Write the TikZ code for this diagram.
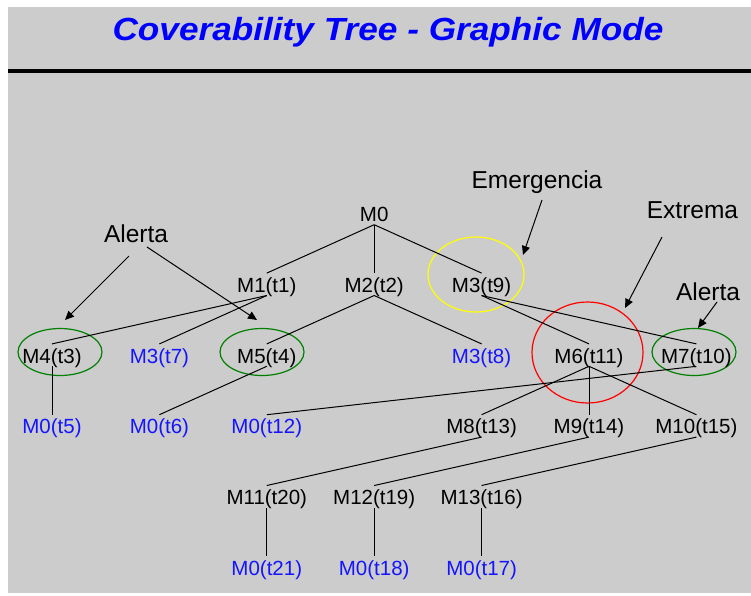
\documentclass[tikz,border=0pt]{standalone}
\usepackage{fontspec}
\setmainfont{Liberation Sans}
\newfontfamily\titlefont[FakeStretch=1.10]{Liberation Sans}
\usetikzlibrary{arrows.meta, positioning, shapes.geometric}

\definecolor{panelgray}{RGB}{204,204,204}
\definecolor{treeblue}{RGB}{20,20,255}
\definecolor{ringgreen}{RGB}{0,128,0}
\definecolor{ringyellow}{RGB}{255,255,0}

\tikzset{
    marking/.style={font=\fontsize{20.5}{20.5}\selectfont, inner sep=0pt,
                    text height=19pt, text depth=3pt},
    oldmark/.style={marking, text=treeblue},
    arc/.style={draw, line width=1pt},
    ring/.style={ellipse, draw, line width=1.2pt, inner sep=0pt},
    note/.style={font=\fontsize{24.5}{24.5}\selectfont, anchor=base},
    pointer/.style={->, line width=1pt},
}

\begin{document}
\begin{tikzpicture}[
    x=1pt, y=-1pt,
    >={Triangle[length=9pt, width=8pt]},
    node distance=70.8pt and 107.4pt,
    on grid,
]
    \useasboundingbox (0,0) rectangle (751,595);
    \fill[panelgray] (8,7) rectangle (751,593);

    \node[anchor=base, text=blue, font=\titlefont\bfseries\itshape\fontsize{32}{32}\selectfont]
        (title) at (388,40) {Coverability Tree - Graphic Mode};
    \draw[line width=4pt] (8,70.5) -- (751,70.5);

    % rings
    \node[ring, draw=ringgreen,  minimum width=84pt,  minimum height=47pt]  (ringM4) at (60,352)      {};
    \node[ring, draw=ringgreen,  minimum width=84pt,  minimum height=47pt]  (ringM5) at (262,352)     {};
    \node[ring, draw=ringyellow, minimum width=96pt,  minimum height=75pt]  (ringM3) at (476,274.5)   {};
    \node[ring, draw=red,        minimum width=111pt, minimum height=101pt] (ringM6) at (587.5,352.5) {};
    \node[ring, draw=ringgreen,  minimum width=84pt,  minimum height=47pt]  (ringM7) at (694,352)     {};

    % tree
    \node[marking]                        (M0)   at (374.2,213.5) {M0};
    \node[marking, below left =of M0]     (M1)   {M1(t1)};
    \node[marking, below      =of M0]     (M2)   {M2(t2)};
    \node[marking, below right=of M0]     (M3)   {M3(t9)};

    \node[oldmark, below left =of M1]     (M3b)  {M3(t7)};
    \node[marking, left       =of M3b]    (M4)   {M4(t3)};
    \node[marking, below      =of M1]     (M5)   {M5(t4)};
    \node[oldmark, below      =of M3]     (M3c)  {M3(t8)};
    \node[marking, below right=of M3]     (M6)   {M6(t11)};
    \node[marking, right      =of M6]     (M7)   {M7(t10)};

    \node[oldmark, below=of M4]           (M0a)  {M0(t5)};
    \node[oldmark, below=of M3b]          (M0b)  {M0(t6)};
    \node[oldmark, below=of M5]           (M0c)  {M0(t12)};
    \node[marking, below=of M3c]          (M8)   {M8(t13)};
    \node[marking, below=of M6]           (M9)   {M9(t14)};
    \node[marking, below=of M7]           (M10)  {M10(t15)};

    \node[marking, below=of M0c]          (M11)  {M11(t20)};
    \node[marking, right=of M11]          (M12)  {M12(t19)};
    \node[marking, right=of M12]          (M13)  {M13(t16)};

    \node[oldmark, below=of M11]          (M0d)  {M0(t21)};
    \node[oldmark, below=of M12]          (M0e)  {M0(t18)};
    \node[oldmark, below=of M13]          (M0f)  {M0(t17)};

    \path[arc]
        (M0.south)  edge (M1.north)
        (M0.south)  edge (M2.north)
        (M0.south)  edge (M3.north)
        (M1.south)  edge (M4.north)
        (M1.south)  edge (M3b.north)
        (M2.south)  edge (M5.north)
        (M2.south)  edge (M3c.north)
        (M3.south)  edge (M6.north)
        (M3.south)  edge (M7.north)
        (M4.south)  edge (M0a.north)
        (M5.south)  edge (M0b.north)
        (M7.south)  edge (M0c.north)
        (M6.south)  edge (M8.north)
        (M6.south)  edge (M9.north)
        (M6.south)  edge (M10.north)
        (M8.south)  edge (M11.north)
        (M9.south)  edge (M12.north)
        (M10.south) edge (M13.north)
        (M11.south) edge (M0d.north)
        (M12.south) edge (M0e.north)
        (M13.south) edge (M0f.north)
    ;

    % notes
    \node[note] (alertaL) at (136,242)   {Alerta};
    \node[note] (emerg)   at (537,188)   {Emergencia};
    \node[note] (extrema) at (692.5,218) {Extrema};
    \node[note] (alertaR) at (708,300)   {Alerta};

    \coordinate (a1s) at (129,256);  \coordinate (a1e) at (65,320);
    \coordinate (a2s) at (147,247);  \coordinate (a2e) at (257,320);
    \coordinate (a3s) at (542,200);  \coordinate (a3e) at (523,255);
    \coordinate (a4s) at (662,237);  \coordinate (a4e) at (625,308);
    \coordinate (a5s) at (717,302);  \coordinate (a5e) at (698,328);

    \draw[pointer] (a1s) -- (a1e);
    \draw[pointer] (a2s) -- (a2e);
    \draw[pointer] (a3s) -- (a3e);
    \draw[pointer] (a4s) -- (a4e);
    \draw[pointer] (a5s) -- (a5e);
\end{tikzpicture}
\end{document}
